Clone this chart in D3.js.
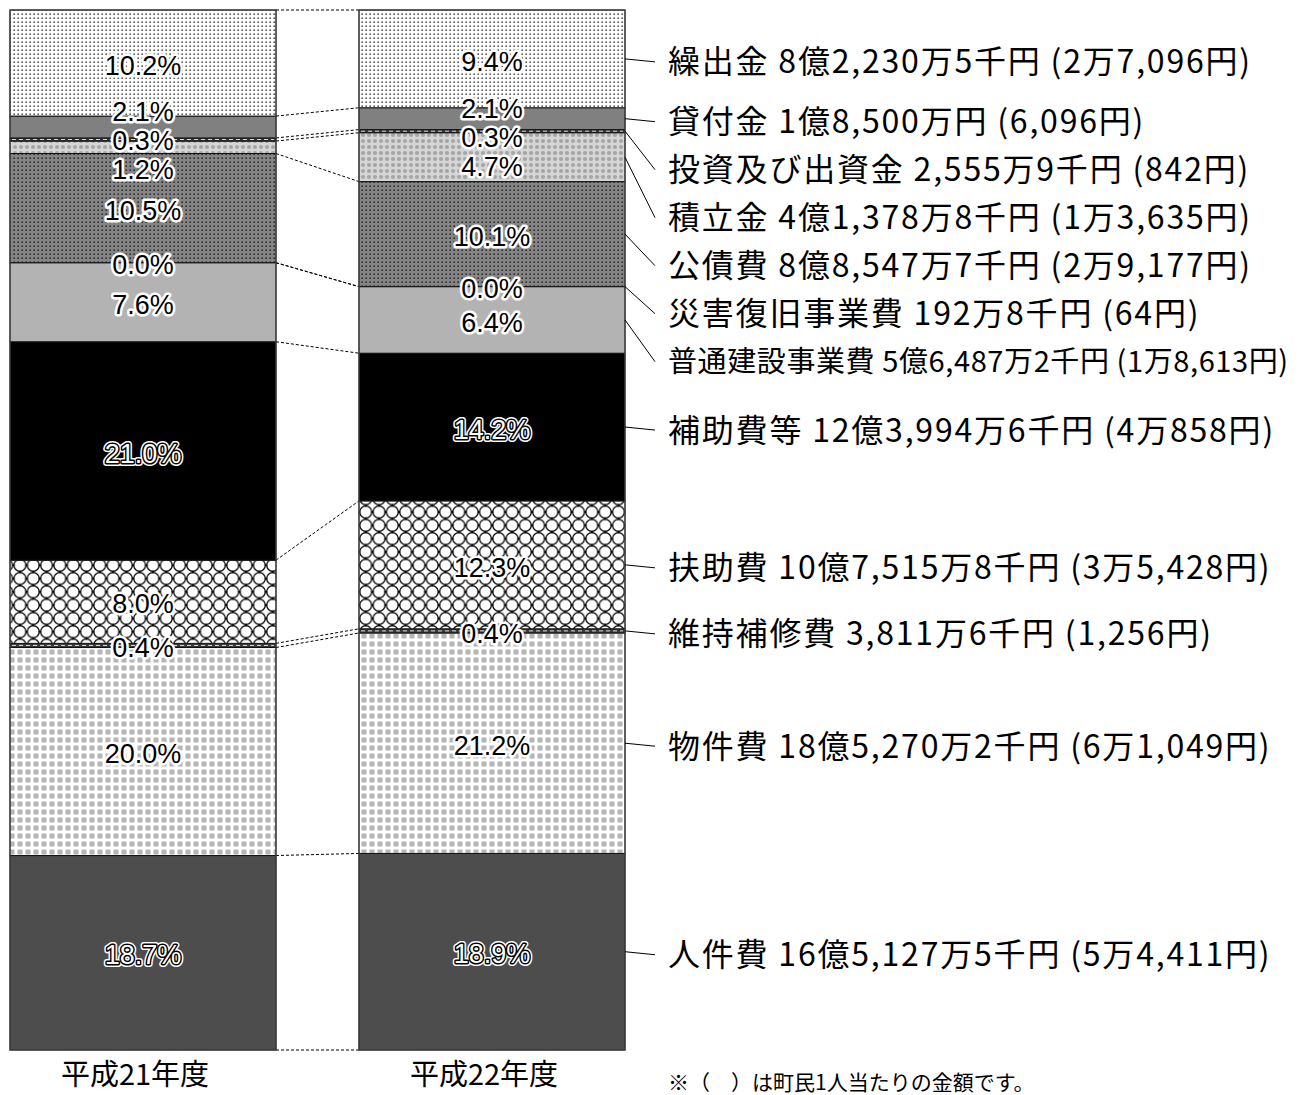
<!DOCTYPE html>
<html>
<head>
<meta charset="utf-8">
<script src="https://cdn.jsdelivr.net/npm/d3@7/dist/d3.min.js"></script>
<style>
  html, body { margin: 0; padding: 0; background: #fff; }
  svg { display: block; }
</style>
</head>
<body>
<svg id="chart" width="1307" height="1095"></svg>
<script>
// ---------------- data ----------------
const years = ["平成21年度", "平成22年度"];
const categories = ["人件費", "物件費", "維持補修費", "扶助費", "補助費等", "普通建設事業費",
  "災害復旧事業費", "公債費", "積立金", "投資及び出資金", "貸付金", "繰出金"];
const share21 = [18.7, 20.0, 0.4, 8.0, 21.0, 7.6, 0.0, 10.5, 1.2, 0.3, 2.1, 10.2];
const share22 = [18.9, 21.2, 0.4, 12.3, 14.2, 6.4, 0.0, 10.1, 4.7, 0.3, 2.1, 9.4];
const amounts22 = ["16億5,127万5千円", "18億5,270万2千円", "3,811万6千円", "10億7,515万8千円",
  "12億3,994万6千円", "5億6,487万2千円", "192万8千円", "8億8,547万7千円", "4億1,378万8千円",
  "2,555万9千円", "1億8,500万円", "8億2,230万5千円"];
const perCapita22 = ["5万4,411円", "6万1,049円", "1,256円", "3万5,428円", "4万858円", "1万8,613円",
  "64円", "2万9,177円", "1万3,635円", "842円", "6,096円", "2万7,096円"];
const note = "※（　）は町民1人当たりの金額です。";

// ---------------- styles ----------------
const fillOf = {
  "人件費": "#4d4d4d",
  "物件費": "url(#pGrid)",
  "維持補修費": "#3a3a3a",
  "扶助費": "url(#pLattice)",
  "補助費等": "#000000",
  "普通建設事業費": "#b3b3b3",
  "災害復旧事業費": "#b3b3b3",
  "公債費": "url(#pDarkDots)",
  "積立金": "url(#pCircles)",
  "投資及び出資金": "#3a3a3a",
  "貸付金": "#808080",
  "繰出金": "url(#pDots)"
};
const thinDashed = new Set(["維持補修費", "投資及び出資金"]);
const darkLabel = new Set(["人件費", "補助費等"]);

const W = 1307;
const svg = d3.select("#chart");
const defs = svg.append("defs");

// dotted white (繰出金)
{
  const p = defs.append("pattern").attr("id", "pDots").attr("patternUnits", "userSpaceOnUse")
    .attr("width", 4).attr("height", 4);
  p.append("rect").attr("width", 4).attr("height", 4).attr("fill", "#fff");
  p.append("rect").attr("x", 1.5).attr("y", 1.5).attr("width", 1.3).attr("height", 1.3).attr("fill", "#000");
}
// dark dotted (公債費)
{
  const p = defs.append("pattern").attr("id", "pDarkDots").attr("patternUnits", "userSpaceOnUse")
    .attr("width", 4).attr("height", 4);
  p.append("rect").attr("width", 4).attr("height", 4).attr("fill", "#858585");
  p.append("rect").attr("x", 1.5).attr("y", 1.5).attr("width", 1.3).attr("height", 1.3).attr("fill", "#000");
}
// light circles (積立金)
{
  const p = defs.append("pattern").attr("id", "pCircles").attr("patternUnits", "userSpaceOnUse")
    .attr("width", 6).attr("height", 6);
  p.append("rect").attr("width", 6).attr("height", 6).attr("fill", "#d6d6d6");
  p.append("circle").attr("cx", 3).attr("cy", 3).attr("r", 2.1).attr("fill", "#a6a6a6");
}
// grid squares (物件費)
{
  const p = defs.append("pattern").attr("id", "pGrid").attr("patternUnits", "userSpaceOnUse")
    .attr("width", 8).attr("height", 8);
  p.append("rect").attr("width", 8).attr("height", 8).attr("fill", "#fff");
  p.append("rect").attr("x", 1.5).attr("y", 1.5).attr("width", 5).attr("height", 5).attr("fill", "#b5b5b5");
}
// lattice (扶助費)
{
  const s = 13.3;
  const p = defs.append("pattern").attr("id", "pLattice").attr("patternUnits", "userSpaceOnUse")
    .attr("width", s).attr("height", s);
  p.append("rect").attr("width", s).attr("height", s).attr("fill", "#fff");
  p.append("circle").attr("cx", s / 2).attr("cy", s / 2).attr("r", s / 2 - 0.7)
    .attr("fill", "none").attr("stroke", "#000").attr("stroke-width", 1.2);
  [[s / 2, 0], [s / 2, s], [0, s / 2], [s, s / 2]].forEach(([x, y]) => {
    p.append("rect").attr("x", x - 1.1).attr("y", y - 1.1).attr("width", 2.2).attr("height", 2.2)
      .attr("transform", `rotate(45 ${x} ${y})`).attr("fill", "#000");
  });
}

// ---------------- scales ----------------
const x = d3.scaleBand().domain(years).range([10, 625]).paddingInner(83 / 349).paddingOuter(0);
const y = d3.scaleLinear().domain([0, 100]).range([1050, 10]);

const rows = [share21, share22].map((arr, i) => {
  const r = { year: years[i] };
  categories.forEach((c, j) => r[c] = arr[j]);
  return r;
});
const series = d3.stack().keys(categories)(rows);

// ---------------- connectors between bars ----------------
const bounds = [0].concat(series.map(s => s[0][1]));
const bounds22 = [0].concat(series.map(s => s[1][1]));
svg.append("g").selectAll("line").data(bounds.map((b, i) => [b, bounds22[i]])).join("line")
  .attr("x1", x(years[0]) + x.bandwidth()).attr("x2", x(years[1]))
  .attr("y1", d => y(d[0])).attr("y2", d => y(d[1]))
  .attr("stroke", "#000").attr("stroke-width", 1).attr("stroke-dasharray", "3,2");

// ---------------- bars ----------------
const gBars = svg.append("g");
series.forEach(s => {
  gBars.selectAll(null).data(s).join("rect")
    .attr("x", d => x(d.data.year))
    .attr("width", x.bandwidth())
    .attr("y", d => y(d[1]))
    .attr("height", d => y(d[0]) - y(d[1]))
    .attr("fill", fillOf[s.key])
    .attr("stroke", "#111").attr("stroke-width", 1);
  if (thinDashed.has(s.key)) {
    gBars.selectAll(null).data(s).join("line")
      .attr("x1", d => x(d.data.year) + 2).attr("x2", d => x(d.data.year) + x.bandwidth() - 2)
      .attr("y1", d => y((d[0] + d[1]) / 2)).attr("y2", d => y((d[0] + d[1]) / 2))
      .attr("stroke", "#ddd").attr("stroke-width", 1).attr("stroke-dasharray", "4,3");
  }
});
gBars.selectAll(".outline").data(years).join("rect")
  .attr("x", d => x(d)).attr("width", x.bandwidth())
  .attr("y", y(100)).attr("height", y(0) - y(100))
  .attr("fill", "none").attr("stroke", "#444").attr("stroke-width", 1.2);

// ---------------- percentage labels ----------------
function dodge(items, gap) {
  items.sort((a, b) => a.c - b.c);
  let cl = items.map(d => ({ m: [d] }));
  const start = k => d3.mean(k.m, d => d.c) - (k.m.length - 1) * gap / 2;
  let merged = true;
  while (merged) {
    merged = false;
    for (let i = 0; i < cl.length - 1; i++) {
      const a = cl[i], b = cl[i + 1];
      if (start(a) + a.m.length * gap > start(b)) {
        cl.splice(i, 2, { m: a.m.concat(b.m) });
        merged = true;
        break;
      }
    }
  }
  cl.forEach(k => { const s0 = start(k); k.m.forEach((d, i) => d.y = s0 + i * gap); });
  return items;
}

const fmt = d3.format(".1f");
const gLab = svg.append("g").attr("font-family", "'Liberation Sans', Arial, sans-serif")
  .attr("font-size", 27).attr("text-anchor", "middle");
years.forEach((yr, yi) => {
  const items = series.map(s => ({ key: s.key, v: s[yi].data[s.key], c: y((s[yi][0] + s[yi][1]) / 2) }));
  dodge(items, 29);
  const cx = x(yr) + x.bandwidth() / 2;
  items.forEach(d => {
    const t = fmt(d.v) + "%";
    const dark = darkLabel.has(d.key);
    const base = () => gLab.append("text").attr("x", cx).attr("y", d.y + 2).attr("dy", "0.36em").text(t);
    if (dark) {
      base().attr("fill", "none").attr("stroke", "#fff").attr("stroke-width", 6).attr("stroke-linejoin", "round");
      base().attr("fill", "none").attr("stroke", "#000").attr("stroke-width", 3).attr("stroke-linejoin", "round");
      base().attr("fill", "#fff");
    } else {
      base().attr("fill", "none").attr("stroke", "#fff").attr("stroke-width", 5).attr("stroke-linejoin", "round");
      base().attr("fill", "#000");
    }
  });
});

// ---------------- right-side labels ----------------
const right = series.map((s, i) => ({
  key: s.key, i, c: y((s[1][0] + s[1][1]) / 2)
})).sort((a, b) => a.c - b.c);
let prev = -Infinity;
right.forEach(d => { d.y = Math.max(d.c + 3, prev + 48); prev = d.y; });

const barRight = x(years[1]) + x.bandwidth();
const textX = barRight + 43;
const gR = svg.append("g");
gR.selectAll("line").data(right).join("line")
  .attr("x1", barRight).attr("y1", d => d.c)
  .attr("x2", barRight + 30).attr("y2", d => d.y)
  .attr("stroke", "#000").attr("stroke-width", 1);
gR.selectAll("text").data(right).join("text")
  .attr("x", textX).attr("y", d => d.y).attr("dy", "0.36em")
  .attr("font-family", "'Noto Sans CJK JP', sans-serif").attr("font-size", 32)
  .attr("letter-spacing", 1.8)
  .attr("fill", "#000")
  .text(d => `${d.key} ${amounts22[d.i]} (${perCapita22[d.i]})`)
  .each(function () {
    // shrink any label that would run past the right edge of the page
    const avail = W - 12 - textX;
    const sel = d3.select(this);
    let fs = 32, ls = 1.8;
    while (this.getComputedTextLength() > avail && fs > 20) {
      fs -= 0.5; ls = Math.max(0, ls - 0.2);
      sel.attr("font-size", fs).attr("letter-spacing", ls);
    }
  });

// ---------------- year labels & note ----------------
svg.append("g").selectAll("text").data(years).join("text")
  .attr("x", d => x(d) + x.bandwidth() / 2 - 8).attr("y", 1075).attr("dy", "0.36em")
  .attr("text-anchor", "middle")
  .attr("font-family", "'Noto Sans CJK JP', sans-serif").attr("font-size", 29)
  .text(d => d);
svg.append("text").attr("x", textX).attr("y", 1082).attr("dy", "0.36em")
  .attr("font-family", "'Noto Sans CJK JP', sans-serif").attr("font-size", 21)
  .text(note);
</script>
</body>
</html>
